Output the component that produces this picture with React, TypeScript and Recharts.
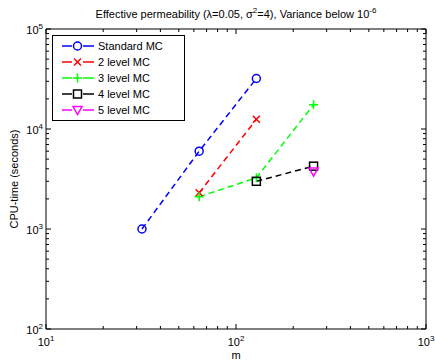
import { LineChart, Line, XAxis, YAxis, Legend, ReferenceArea, Label } from 'recharts';

// chart size and plot box
const W = 435;
const H = 361;
const TOP = 29;
const LEFT = 46;
const RIGHT_PAD = 9;
const XAXIS_H = 32;
const BOTTOM = H - XAXIS_H;
const RIGHT = W - RIGHT_PAD;

const FONT = '"Liberation Sans", Arial, Helvetica, sans-serif';

// tick values (log axes)
const X_TICKS = [10, 20, 30, 40, 50, 60, 70, 80, 90, 100, 200, 300, 400, 500, 600, 700, 800, 900, 1000];
const Y_TICKS = [
  100, 200, 300, 400, 500, 600, 700, 800, 900,
  1000, 2000, 3000, 4000, 5000, 6000, 7000, 8000, 9000,
  10000, 20000, 30000, 40000, 50000, 60000, 70000, 80000, 90000,
  100000,
];
const X_EXP: Record<number, string> = { 10: '1', 100: '2', 1000: '3' };
const Y_EXP: Record<number, string> = { 100: '2', 1000: '3', 10000: '4', 100000: '5' };

// series: m vs CPU-time
const mStandard = [32, 64, 128];
const tStandard = [1000, 6000, 32000];
const m2level = [64, 128];
const t2level = [2300, 12500];
const m3level = [64, 128, 256];
const t3level = [2100, 3250, 17500];
const m4level = [128, 256];
const t4level = [3000, 4250];
const m5level = [256];
const t5level = [3750];

type Kind = 'o' | 'x' | '+' | 's' | 'v';

const zip = (xs: number[], ys: number[]) => xs.map((x, i) => ({ x, y: ys[i] }));

const series: { name: string; color: string; kind: Kind; data: { x: number; y: number }[] }[] = [
  { name: 'Standard MC', color: '#0000ff', kind: 'o', data: zip(mStandard, tStandard) },
  { name: '2 level MC', color: '#ff0000', kind: 'x', data: zip(m2level, t2level) },
  { name: '3 level MC', color: '#00ff00', kind: '+', data: zip(m3level, t3level) },
  { name: '4 level MC', color: '#000000', kind: 's', data: zip(m4level, t4level) },
  { name: '5 level MC', color: '#ff00ff', kind: 'v', data: zip(m5level, t5level) },
];

function Marker({ cx, cy, kind, color }: { cx: number; cy: number; kind: Kind; color: string }) {
  const sw = 1.5;
  if (kind === 'o') return <circle cx={cx} cy={cy} r={4} fill="none" stroke={color} strokeWidth={sw} />;
  if (kind === 'x')
    return (
      <g stroke={color} strokeWidth={sw}>
        <line x1={cx - 3.5} y1={cy - 3.5} x2={cx + 3.5} y2={cy + 3.5} />
        <line x1={cx - 3.5} y1={cy + 3.5} x2={cx + 3.5} y2={cy - 3.5} />
      </g>
    );
  if (kind === '+')
    return (
      <g stroke={color} strokeWidth={sw}>
        <line x1={cx - 4.5} y1={cy} x2={cx + 4.5} y2={cy} />
        <line x1={cx} y1={cy - 4.5} x2={cx} y2={cy + 4.5} />
      </g>
    );
  if (kind === 's')
    return <rect x={cx - 4} y={cy - 4} width={8} height={8} fill="none" stroke={color} strokeWidth={sw} />;
  return (
    <polygon
      points={`${cx - 4.5},${cy - 3.5} ${cx + 4.5},${cy - 3.5} ${cx},${cy + 4.5}`}
      fill="none"
      stroke={color}
      strokeWidth={sw}
    />
  );
}

function XTick({ x, y, payload }: any) {
  const v = payload.value;
  const major = X_EXP[v] !== undefined;
  const len = major ? 5 : 3;
  return (
    <g>
      <line x1={x} y1={BOTTOM} x2={x} y2={BOTTOM - len} stroke="#000" />
      <line x1={x} y1={TOP} x2={x} y2={TOP + len} stroke="#000" />
      {major && (
        <text x={x} y={y + 17} textAnchor="middle" fontSize={11} fontFamily={FONT} fill="#000">
          10
          <tspan dy={-5} fontSize={8}>
            {X_EXP[v]}
          </tspan>
        </text>
      )}
    </g>
  );
}

function YTick({ y, payload }: any) {
  const v = payload.value;
  const major = Y_EXP[v] !== undefined;
  const len = major ? 5 : 3;
  return (
    <g>
      <line x1={LEFT} y1={y} x2={LEFT + len} y2={y} stroke="#000" />
      <line x1={RIGHT} y1={y} x2={RIGHT - len} y2={y} stroke="#000" />
      {major && (
        <text x={LEFT - 3} y={y + 5} textAnchor="end" fontSize={11} fontFamily={FONT} fill="#000">
          10
          <tspan dy={-5} fontSize={8}>
            {Y_EXP[v]}
          </tspan>
        </text>
      )}
    </g>
  );
}

function LegendBox() {
  return (
    <div
      style={{
        width: 133,
        boxSizing: 'border-box',
        border: '1px solid #000',
        background: '#fff',
        padding: '2px 0',
        fontFamily: FONT,
        fontSize: 11,
        color: '#000',
      }}
    >
      {series.map((s) => (
        <div key={s.name} style={{ display: 'flex', alignItems: 'center', height: 16 }}>
          <svg width={44} height={16} style={{ display: 'block' }}>
            <line x1={9} y1={8} x2={19} y2={8} stroke={s.color} strokeWidth={1.5} />
            <line x1={30} y1={8} x2={41} y2={8} stroke={s.color} strokeWidth={1.5} />
            <Marker cx={24.5} cy={8} kind={s.kind} color={s.color} />
          </svg>
          <span style={{ marginLeft: 1, whiteSpace: 'nowrap' }}>{s.name}</span>
        </div>
      ))}
    </div>
  );
}

export default function App() {
  return (
    <div style={{ position: 'absolute', left: 0, top: 0, width: W, height: H, background: '#fff' }}>
      <div
        style={{
          position: 'absolute',
          left: LEFT,
          width: RIGHT - LEFT,
          top: 8,
          textAlign: 'center',
          fontFamily: FONT,
          fontSize: 11,
          lineHeight: '13px',
          color: '#000',
          whiteSpace: 'nowrap',
        }}
      >
        Effective permeability (λ=0.05, σ
        <span style={{ fontSize: 8, position: 'relative', top: -5 }}>2</span>
        =4), Variance below 10
        <span style={{ fontSize: 8, position: 'relative', top: -5 }}>-6</span>
      </div>
      <LineChart width={W} height={H} margin={{ top: TOP, right: RIGHT_PAD, bottom: 0, left: 0 }}>
        <XAxis
          dataKey="x"
          type="number"
          scale="log"
          domain={[10, 1000]}
          ticks={X_TICKS}
          allowDataOverflow
          height={XAXIS_H}
          axisLine={false}
          tickLine={false}
          tickSize={0}
          tickMargin={0}
          tick={<XTick />}
          interval={0}
        >
          <Label
            content={() => (
              <text x={(LEFT + RIGHT) / 2} y={H - 2} textAnchor="middle" fontSize={11} fontFamily={FONT} fill="#000">
                m
              </text>
            )}
          />
        </XAxis>
        <YAxis
          dataKey="y"
          type="number"
          scale="log"
          domain={[100, 100000]}
          ticks={Y_TICKS}
          allowDataOverflow
          width={LEFT}
          axisLine={false}
          tickLine={false}
          tickSize={0}
          tickMargin={0}
          tick={<YTick />}
          interval={0}
        >
          <Label
            content={() => (
              <text
                x={14}
                y={(TOP + BOTTOM) / 2}
                transform={`rotate(-90 14 ${(TOP + BOTTOM) / 2})`}
                textAnchor="middle"
                dominantBaseline="central"
                fontSize={11}
                fontFamily={FONT}
                fill="#000"
              >
                CPU-time (seconds)
              </text>
            )}
          />
        </YAxis>
        <ReferenceArea x1={10} x2={1000} y1={100} y2={100000} fill="none" fillOpacity={0} stroke="#000" strokeWidth={1} />
        {series.map((s) => (
          <Line
            key={s.name}
            data={s.data}
            dataKey="y"
            name={s.name}
            type="linear"
            stroke={s.color}
            strokeWidth={1.5}
            strokeDasharray="6 4"
            isAnimationActive={false}
            activeDot={false}
            dot={(p: any) => <Marker key={`${s.name}-${p.index}`} cx={p.cx} cy={p.cy} kind={s.kind} color={s.color} />}
          />
        ))}
        <Legend
          layout="vertical"
          align="center"
          verticalAlign="middle"
          wrapperStyle={{ left: 52, top: 35 }}
          content={() => <LegendBox />}
        />
      </LineChart>
    </div>
  );
}
